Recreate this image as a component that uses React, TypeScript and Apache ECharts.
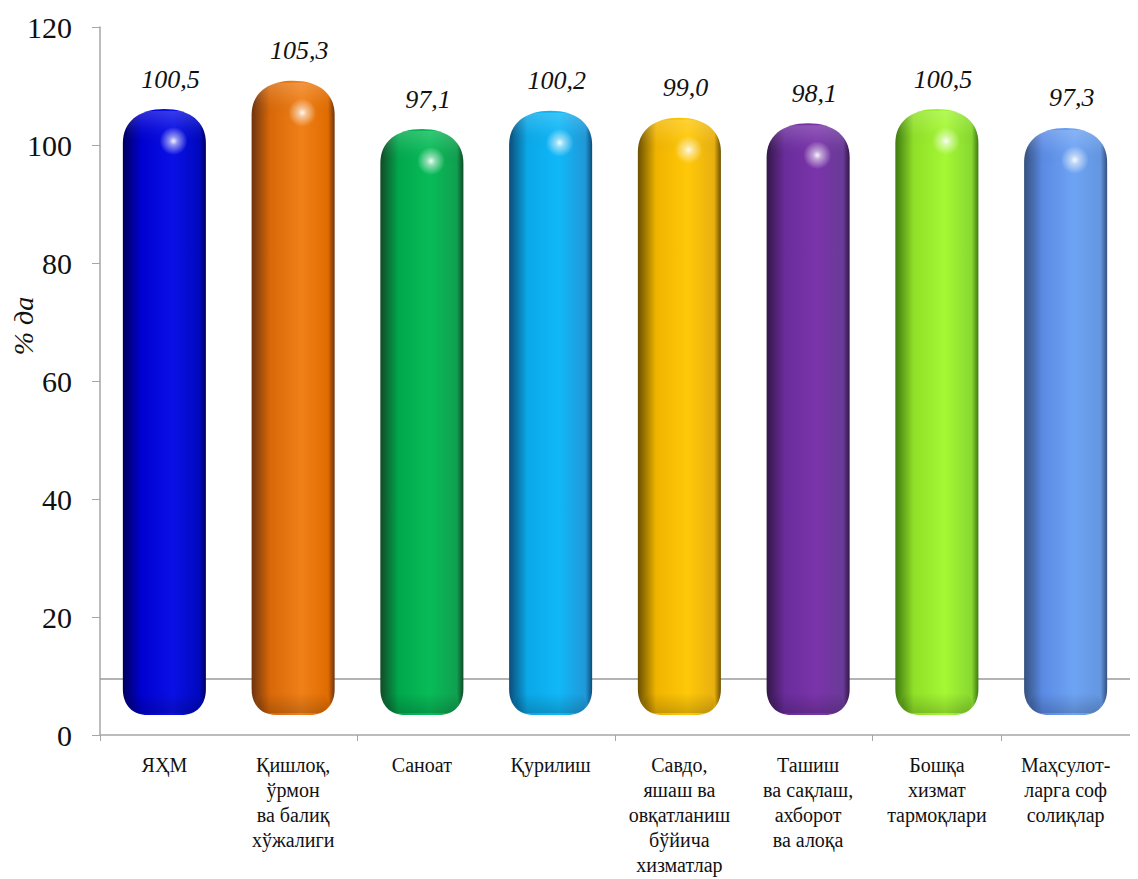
import React, { useEffect, useRef } from "react";
import * as echarts from "echarts";

const categories = [
  "ЯҲМ",
  "Қишлоқ,\nўрмон\nва балиқ\nхўжалиги",
  "Саноат",
  "Қурилиш",
  "Савдо,\nяшаш ва\nовқатланиш\nбўйича\nхизматлар",
  "Ташиш\nва сақлаш,\nахборот\nва алоқа",
  "Бошқа\nхизмат\nтармоқлари",
  "Маҳсулот-\nларга соф\nсолиқлар",
];
const values = [100.5, 105.3, 97.1, 100.2, 99.0, 98.1, 100.5, 97.3];
const yTicks = { min: 0, max: 120, interval: 20 };
const floorLine = 9.5;

// [dark edge, main, light, right edge]
const palette = [
  ["#00005e", "#0000d0", "#0a10e6", "#0008c0"],
  ["#6e3410", "#d86808", "#f08018", "#e06c00"],
  ["#124a28", "#00a84c", "#08bc58", "#10a050"],
  ["#0a4e7a", "#0aa8e8", "#10b8f8", "#2098d8"],
  ["#6a5000", "#f0b400", "#ffc808", "#e8b010"],
  ["#341648", "#6a2c9c", "#7a34aa", "#6a3a98"],
  ["#3e7a10", "#90e028", "#a4f834", "#88d830"],
  ["#34507e", "#5a8ae4", "#6ea4f4", "#6496e0"],
];

const BASE = 3.4;
const TOP_EXTRA = 5.6;
const SERIF = "Times New Roman, Liberation Serif, DejaVu Serif, serif";

export default function App() {
  const ref = useRef<HTMLDivElement>(null);
  useEffect(() => {
    if (!ref.current) return;
    const chart = echarts.init(ref.current, null, { renderer: "svg" });
    chart.setOption({
      animation: false,
      textStyle: { fontFamily: SERIF },
      grid: { left: 92, right: 8, top: 19, bottom: 144 },
      graphic: [
        {
          type: "text",
          x: 15,
          y: 318,
          rotation: Math.PI / 2,
          style: {
            text: "% да",
            fontFamily: SERIF,
            fontStyle: "italic",
            fontSize: 28,
            fill: "#111",
            textAlign: "center",
            textVerticalAlign: "middle",
          },
        },
      ],
      xAxis: {
        type: "category",
        data: categories,
        axisLine: { lineStyle: { color: "#a6a6a6", width: 1.5 } },
        axisTick: { show: true, interval: 1, length: 6, lineStyle: { color: "#a6a6a6" } },
        axisLabel: {
          interval: 0,
          margin: 17,
          fontFamily: SERIF,
          fontSize: 20,
          lineHeight: 25,
          color: "#111",
          align: "center",
        },
      },
      yAxis: {
        type: "value",
        min: yTicks.min,
        max: yTicks.max,
        interval: yTicks.interval,
        splitLine: { show: false },
        axisLine: { show: true, lineStyle: { color: "#a6a6a6", width: 1.5 } },
        axisTick: { show: true, length: 8, lineStyle: { color: "#a6a6a6" } },
        axisLabel: { fontFamily: SERIF, fontSize: 30, color: "#111", margin: 28 },
      },
      series: [
        {
          type: "line",
          data: [],
          z: 1,
          markLine: {
            silent: true,
            symbol: "none",
            label: { show: false },
            lineStyle: { color: "#9a9a9a", type: "solid", width: 1.5 },
            data: [{ yAxis: floorLine }],
          },
        },
        {
          type: "custom",
          z: 5,
          data: values.map((v, i) => [i, v]),
          renderItem: (params: any, api: any) => {
            const idx = api.value(0);
            const val = api.value(1);
            const top = api.coord([idx, val + TOP_EXTRA]);
            const bot = api.coord([idx, BASE]);
            const bw = api.size([1, 0])[0] * 0.645;
            const cx = top[0];
            const x0 = cx - bw / 2;
            const x1 = cx + bw / 2;
            const yt = top[1];
            const yb = bot[1];
            const rx = bw / 2;
            const ry = 34;
            const rbx = bw * 0.3;
            const rby = 26;
            const k = 0.62;
            const d = [
              `M${x0},${yt + ry}`,
              `C${x0},${yt + ry - k * ry} ${cx - k * rx},${yt} ${cx},${yt}`,
              `C${cx + k * rx},${yt} ${x1},${yt + ry - k * ry} ${x1},${yt + ry}`,
              `L${x1},${yb - rby}`,
              `C${x1},${yb - rby + k * rby} ${x1 - rbx + k * rbx},${yb} ${x1 - rbx},${yb}`,
              `L${x0 + rbx},${yb}`,
              `C${x0 + rbx - k * rbx},${yb} ${x0},${yb - rby + k * rby} ${x0},${yb - rby}`,
              "Z",
            ].join(" ");
            const c = palette[idx % palette.length];
            const fill = {
              type: "linear",
              x: 0,
              y: 0,
              x2: 1,
              y2: 0,
              colorStops: [
                { offset: 0, color: c[0] },
                { offset: 0.22, color: c[1] },
                { offset: 0.6, color: c[2] },
                { offset: 0.92, color: c[3] },
                { offset: 1, color: c[0] },
              ],
            };
            const capShade = {
              type: "linear",
              x: 0,
              y: 0,
              x2: 0,
              y2: 1,
              colorStops: [
                { offset: 0, color: "rgba(255,255,255,0.18)" },
                { offset: 0.5, color: "rgba(255,255,255,0.05)" },
                { offset: 1, color: "rgba(0,0,0,0)" },
              ],
            };
            const glow = {
              type: "radial",
              x: 0.5,
              y: 0.5,
              r: 0.5,
              colorStops: [
                { offset: 0, color: "rgba(255,255,255,0.95)" },
                { offset: 0.3, color: "rgba(255,255,255,0.55)" },
                { offset: 1, color: "rgba(255,255,255,0)" },
              ],
            };
            const bottomShade = {
              type: "linear",
              x: 0,
              y: 0,
              x2: 0,
              y2: 1,
              colorStops: [
                { offset: 0, color: "rgba(0,0,0,0)" },
                { offset: 1, color: "rgba(0,0,0,0.18)" },
              ],
            };
            return {
              type: "group",
              children: [
                { type: "path", shape: { pathData: d }, style: { fill } },
                {
                  type: "rect",
                  shape: { x: x0 + 4, y: yt + 2, width: bw - 8, height: ry },
                  style: { fill: capShade },
                },
                {
                  type: "rect",
                  shape: { x: x0 + 6, y: yb - 22, width: bw - 12, height: 20, r: 10 },
                  style: { fill: bottomShade },
                },
                {
                  type: "circle",
                  shape: { cx: x0 + bw * 0.61, cy: yt + 32, r: 14 },
                  style: { fill: glow },
                },
                {
                  type: "text",
                  style: {
                    text: String(val.toFixed(1)).replace(".", ","),
                    x: cx + 6,
                    y: yt - 17,
                    textAlign: "center",
                    textVerticalAlign: "bottom",
                    fontFamily: SERIF,
                    fontStyle: "italic",
                    fontSize: 26,
                    fill: "#111",
                  },
                },
              ],
            };
          },
        },
      ],
    });
    return () => chart.dispose();
  }, []);
  return <div ref={ref} style={{ width: 1130, height: 871 }} />;
}
